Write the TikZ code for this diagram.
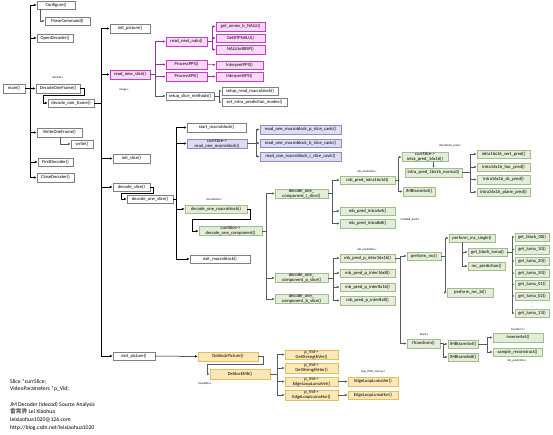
\documentclass[tikz,border=0pt]{standalone}
\usepackage{fontspec}
\setmainfont{Carlito}
\newfontfamily\cjk{Noto Sans CJK SC}
\usetikzlibrary{arrows.meta,calc}
\definecolor{pinkfill}{HTML}{F9D9F6}
\definecolor{pinkdraw}{HTML}{C83CC8}
\definecolor{bluefill}{HTML}{DCDCF4}
\definecolor{bluedraw}{HTML}{8C8CC8}
\definecolor{greenfill}{HTML}{E3EED8}
\definecolor{greendraw}{HTML}{A3BC8C}
\definecolor{orfill}{HTML}{FCE8B4}
\definecolor{ordraw}{HTML}{E2BD62}
\definecolor{boxdraw}{HTML}{808080}
\definecolor{linegray}{HTML}{5A5A5A}
\newcommand\fs{\fontsize{4.6}{4.9}\selectfont}
\newcommand\fn{\fontsize{5.7}{7.2}\selectfont}
\newcommand\fl{\fontsize{2.9}{3.2}\selectfont}
\tikzset{
  bx/.style={draw=boxdraw, fill=white, line width=0.45pt, minimum height=8.5pt, inner sep=0.3pt, font=\fs, align=center},
  pk/.style={bx, draw=pinkdraw, fill=pinkfill},
  bl/.style={bx, draw=bluedraw, fill=bluefill},
  gr/.style={bx, draw=greendraw, fill=greenfill},
  orb/.style={bx, draw=ordraw, fill=orfill},
  mw/.style={minimum width=#1pt},
  lbl/.style={font=\fl, inner sep=0pt},
  ar/.style={draw=linegray, line width=0.5pt, -{Latex[length=2.6pt,width=2.2pt]}},
  mar/.style={draw=pinkdraw!80!black, line width=0.5pt, -{Latex[length=2.6pt,width=2.2pt]}},
  tar/.style={draw=black, line width=0.9pt, -{Latex[length=3pt,width=2.6pt]}},
}
\begin{document}
\begin{tikzpicture}[x=1pt,y=-1pt]
\useasboundingbox[fill=white] (0,0) rectangle (553,434);

% main column
\node[bx,mw=22] (main) at (14,88.5) {main()};
\node[bx,mw=38] (configure) at (56,5) {Configure()};
\node[bx,mw=45] (parsecmd) at (67.5,21) {ParseCommand()};
\node[bx,mw=36] (opendec) at (55,38) {OpenDecoder()};
\node[bx,mw=44] (dof1) at (58,88.5) {DecodeOneFrame()};
\node[bx,mw=46] (dof) at (71,103) {decode\_one\_frame()};
\node[bx,mw=45] (wof) at (59.5,132.5) {WriteOneFrame()};
\node[bx,mw=22] (write) at (82,144) {write()};
\node[bx,mw=35] (finit) at (55.5,162) {FinitDecoder()};
\node[bx,mw=37] (closedec) at (55.5,177.5) {CloseDecoder()};
\node[lbl] (lbldecode) at (58,78) {decode.c};

% decode_one_frame children
\node[bx,mw=40] (initpic) at (130,28.5) {init\_picture()};
\node[pk,mw=40] (rns) at (130,74.5) {read\_new\_slice()};
\node[lbl] (lblimage) at (124,90) {image.c};
\node[bx,mw=37] (initslice) at (131.5,158.5) {init\_slice()};
\node[bx,mw=37] (decslice) at (131.5,187) {decode\_slice()};
\node[bx,mw=46] (dos) at (150,199) {decode\_one\_slice()};
\node[bx,mw=42] (exitpic) at (134,356) {exit\_picture()};

% read_new_slice subtree
\node[pk,mw=41] (rnn) at (186.5,41.5) {read\_next\_nalu()};
\node[pk,mw=41] (ppps) at (186.5,64.5) {ProcessPPS()};
\node[pk,mw=41] (psps) at (186.5,76.5) {ProcessSPS()};
\node[bx,mw=48] (ssm) at (190,96) {setup\_slice\_methods()};
\node[pk,mw=49] (annexb) at (240.5,26.5) {get\_annex\_b\_NALU()};
\node[pk,mw=49] (rtp) at (240.5,38) {GetRTPNALU()};
\node[pk,mw=49] (rbsp) at (240.5,49.5) {NALUtoRBSP()};
\node[pk,mw=47] (ipps) at (239.5,65) {InterpretPPS()};
\node[pk,mw=47] (isps) at (239.5,76.5) {InterpretSPS()};
\node[bx,mw=56] (srm) at (250,91) {setup\_read\_macroblock()};
\node[bx,mw=65] (sipm) at (254.5,102) {set\_intra\_prediction\_modes()};

% decode_one_slice subtree
\node[bx,mw=59] (smb) at (216.5,127.5) {start\_macroblock()};
\node[bl,mw=60] (romb) at (217,143.5) {currSlice->\\read\_one\_macroblock()};
\node[bl,mw=81] (romp) at (300.5,129.5) {read\_one\_macroblock\_p\_slice\_cavlc()};
\node[bl,mw=81] (rombb) at (300.5,143) {read\_one\_macroblock\_b\_slice\_cavlc()};
\node[bl,mw=81] (romi) at (300.5,156.5) {read\_one\_macroblock\_i\_slice\_cavlc()};
\node[gr,mw=62] (domb) at (216,209) {decode\_one\_macroblock()};
\node[lbl] (lblmb) at (214,199) {macroblock.c};
\node[gr,mw=63] (doc) at (230.5,231) {currSlice->\\decode\_one\_component()};
\node[bx,mw=60] (emb) at (220,259) {exit\_macroblock()};

\node[gr,mw=53] (doci) at (301.5,193.5) {decode\_one\_\\component\_i\_slice()};
\node[gr,mw=53] (docp) at (301.5,278) {decode\_one\_\\component\_p\_slice()};
\node[gr,mw=53] (docb) at (301.5,299) {decode\_one\_\\component\_b\_slice()};

% intra
\node[gr,mw=55] (i16) at (367.5,180) {mb\_pred\_intra16x16()};
\node[lbl] (lblmbp1) at (367,172) {mb\_prediction.c};
\node[gr,mw=55] (i4) at (367.5,211) {mb\_pred\_intra4x4()};
\node[gr,mw=55] (i8) at (367.5,223.5) {mb\_pred\_intra8x8()};
\node[lbl] (lbli8) at (410,220) {intra8x8\_pred.c};
\node[gr,mw=46] (cs16) at (425,157) {currSlice->\\intra\_pred\_16x16()};
\node[lbl] (lbli16) at (450,146) {intra16x16\_pred.c};
\node[gr,mw=57] (nrm) at (433.5,172.5) {intra\_pred\_16x16\_normal()};
\node[gr,mw=32] (t4a) at (419,191.5) {iMBtrans4x4()};
\node[gr,mw=53] (vert) at (503.5,154) {intra16x16\_vert\_pred()};
\node[gr,mw=53] (hor) at (503.5,167) {intra16x16\_hor\_pred()};
\node[gr,mw=53] (dc) at (503.5,179.5) {intra16x16\_dc\_pred()};
\node[gr,mw=53] (plane) at (503.5,192) {intra16x16\_plane\_pred()};

% inter
\node[gr,mw=55] (pa) at (367.5,258) {mb\_pred\_p\_inter16x16()};
\node[lbl] (lblmbp2) at (367,250) {mb\_prediction.c};
\node[gr,mw=55] (pb) at (367.5,273) {mb\_pred\_p\_inter16x8()};
\node[gr,mw=55] (pc) at (367.5,287) {mb\_pred\_p\_inter8x16()};
\node[gr,mw=55] (pd) at (367.5,300.5) {mb\_pred\_p\_inter8x8()};
\node[gr,mw=34] (pmc) at (424,256) {perform\_mc()};
\node[gr,mw=33] (itr) at (423.5,343.5) {iTransform()};
\node[lbl] (lblblock) at (424,334) {block.c};
\node[gr,mw=46] (mcs) at (472,238) {perform\_mc\_single()};
\node[gr,mw=46] (mcb) at (470,292.5) {perform\_mc\_bi()};
\node[gr,mw=39] (gbl) at (487.5,252) {get\_block\_luma()};
\node[gr,mw=37] (mcp) at (486.5,266) {mc\_prediction()};
\node[gr,mw=34] (g00) at (532,237) {get\_block\_00()};
\node[gr,mw=34] (g10) at (532,249.5) {get\_luma\_10()};
\node[gr,mw=34] (g20) at (532,261) {get\_luma\_20()};
\node[gr,mw=34] (g30) at (532,273) {get\_luma\_30()};
\node[gr,mw=34] (g01) at (532,284.5) {get\_luma\_01()};
\node[gr,mw=34] (g02) at (532,296) {get\_luma\_02()};
\node[font=\fs, inner sep=0pt] (gdots) at (532,304) {$\vdots$};
\node[gr,mw=34] (g33) at (532,313) {get\_luma\_33()};
\node[gr,mw=30] (t4b) at (463,344) {iMBtrans4x4()};
\node[gr,mw=30] (t8) at (463,357) {iMBtrans8x8()};
\node[gr,mw=50] (inv) at (518,337.5) {inverse4x4()};
\node[lbl] (lbltr) at (518,330) {transform.c};
\node[gr,mw=49] (srec) at (517.5,352) {sample\_reconstruct()};
\node[lbl] (lblmbp3) at (517,360.5) {mb\_prediction.c};

% deblocking
\node[orb,mw=60] (dbp) at (228,356.5) {DeblockPicture()};
\node[orb,mw=60,minimum height=10pt] (dbm) at (240,374) {DeblockMb()};
\node[lbl] (lbllf) at (205,384) {loopFilter.c};
\node[orb,mw=53] (gsv) at (311.5,354.5) {p\_Vid->\\GetStrengthVer()};
\node[orb,mw=53] (gsh) at (311.5,368) {p\_Vid->\\GetStrengthHor()};
\node[orb,mw=53] (elv) at (311.5,381.5) {p\_Vid->\\EdgeLoopLumaVer()};
\node[orb,mw=53] (elh) at (311.5,395) {p\_Vid->\\EdgeLoopLumaHor()};
\node[orb,mw=50] (elvb) at (373,381.5) {EdgeLoopLumaVer()};
\node[orb,mw=50] (elhb) at (373,395) {EdgeLoopLumaHor()};
\node[lbl] (lbllfn) at (373,372) {loop\_filter\_normal.c};

% notes
\node[font=\fn, align=left, anchor=north west, inner sep=0pt] (note1) at (10,379)
  {Slice *currSlice;\\VideoParameters *p\_Vid;};
\node[font=\fn, align=left, anchor=north west, inner sep=0pt] (note2) at (10,402)
  {JM Decoder (ldecod) Source Analysis\\[0.4pt]{\cjk 雷霄骅} Lei Xiaohua\\[0.4pt]leixiaohua1020@126.com\\[0.4pt]http://blog.csdn.net/leixiaohua1020};

% ---------- connectors ----------
\foreach \c in {configure,opendec,dof1,wof,finit,closedec}
  \draw[tar] (main.east) -- ++(5,0) |- (\c.west);
\draw[ar] ($(configure.south west)+(3,0)$) |- (parsecmd.west);
\draw[ar] ($(wof.south west)+(23,0)$) |- (write.west);
\draw[tar] (dof1.east) -- ++(4,0) |- ($(dof.west)+(-4,-8)$) |- (dof.west);
\foreach \c in {initpic,rns,initslice,decslice,exitpic}
  \draw[tar] (dof.east) -- ++(7,0) |- (\c.west);

\foreach \c in {rnn,ppps,psps}
  \draw[mar] (rns.east) -- ++(5,0) |- (\c.west);
\draw[ar] (rns.east) -- ++(5,0) |- (ssm.west);
\foreach \c in {annexb,rtp,rbsp}
  \draw[mar] (rnn.east) -- ++(5,0) |- (\c.west);
\draw[mar] (ppps) -- (ipps);
\draw[mar] (psps) -- (isps);
\foreach \c in {srm,sipm}
  \draw[ar] (ssm.east) -- ++(5,0) |- (\c.west);

\draw[tar] (decslice.east) -- ++(3,0) |- ($(dos.west)+(-5,-6)$) |- (dos.west);
\foreach \c in {smb,romb,domb,emb}
  \draw[tar] (dos.east) -- ++(3,0) |- (\c.west);
\foreach \c in {romp,rombb,romi}
  \draw[ar] (romb.east) -- ++(9,0) |- (\c.west);
\draw[tar] (domb.east) -- ++(3,0) |- ($(doc.west)+(-6,-12)$) |- (doc.west);
\foreach \c in {doci,docp,docb}
  \draw[ar] (doc.east) -- ++(4,0) |- (\c.west);
\foreach \c in {i16,i4,i8}
  \draw[ar] (doci.east) -- ++(4,0) |- (\c.west);
\foreach \c in {cs16,t4a}
  \draw[ar] (i16.east) -- ++(3,0) |- (\c.west);
\draw[ar] (cs16.south -| nrm.north) -- (nrm.north);
\foreach \c in {vert,hor,dc,plane}
  \draw[ar] (nrm.east) -- ++(8,0) |- (\c.west);

\foreach \c in {pa,pb,pc,pd}
  \draw[ar] (docp.east) -- ++(5,0) |- (\c.west);
\foreach \c in {pmc,itr}
  \draw[ar] (pa.east) -- ++(5,0) |- (\c.west);
\foreach \c in {mcs,mcb}
  \draw[ar] (pmc.east) -- ++(4,0) |- (\c.west);
\foreach \c in {gbl,mcp}
  \draw[ar] ($(mcs.south west)+(13,0)$) |- (\c.west);
\foreach \c in {g00,g10,g20,g30,g01,g02,g33}
  \draw[ar] (gbl.east) -- ++(5,0) |- (\c.west);
\foreach \c in {t4b,t8}
  \draw[ar] (itr.east) -- ++(3,0) |- (\c.west);
\foreach \c in {inv,srec}
  \draw[ar] (t4b.east) -- ++(9,0) |- (\c.west);

\draw[ar, draw=black] (exitpic) -- (dbp);
\draw[ar] (dbp.east) -- ++(5,0) |- ($(dbm.west)+(-3,-10)$) |- (dbm.west);
\foreach \c in {gsv,gsh,elv,elh}
  \draw[ar] (dbm.east) -- ++(7,0) |- (\c.west);
\draw[ar] (elv) -- (elvb);
\draw[ar] (elh) -- (elhb);
\end{tikzpicture}
\end{document}
